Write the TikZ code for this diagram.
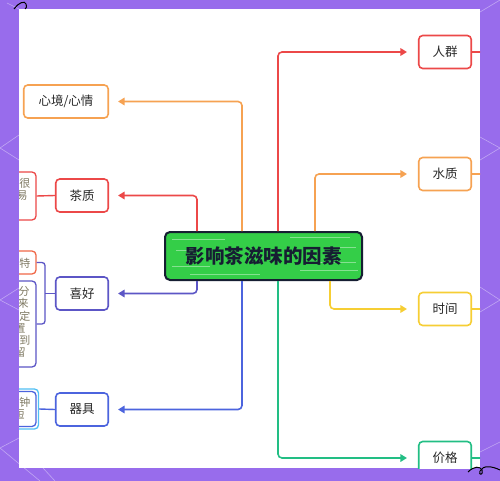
\documentclass[tikz,border=0pt]{standalone}
\usepackage{fontspec}
\newfontfamily\cjk{Noto Sans CJK SC}
\usetikzlibrary{arrows.meta,calc}
\definecolor{bgp}{RGB}{152,108,236}
\definecolor{cRed}{RGB}{236,72,72}
\definecolor{cOr}{RGB}{246,162,82}
\definecolor{cPur}{RGB}{92,86,198}
\definecolor{cBlue}{RGB}{76,100,222}
\definecolor{cYel}{RGB}{246,206,52}
\definecolor{cGrn}{RGB}{34,190,132}
\definecolor{cCyan}{RGB}{80,192,244}
\definecolor{cTOr}{RGB}{240,104,72}
\definecolor{mid}{RGB}{52,206,72}
\definecolor{midb}{RGB}{22,30,50}
\definecolor{txt}{RGB}{40,40,40}
\definecolor{gtxt}{RGB}{128,122,100}
\begin{document}
\begin{tikzpicture}[x=1pt,y=-1pt,
  font=\cjk\fontsize{12.5}{14}\selectfont,
  box/.style={draw, line width=1.6pt, rounded corners=4pt, fill=white,
    minimum width=52.5pt, minimum height=33pt, inner sep=0pt, text=txt},
  sbox/.style={draw, line width=1.3pt, rounded corners=4pt, fill=white,
    minimum width=34pt, inner sep=0pt},
  stxt/.style={font=\cjk\fontsize{11}{12}\selectfont, text=gtxt, inner sep=0pt},
  conn/.style={line width=1.6pt, rounded corners=4pt,
    -{Triangle[length=6.5pt,width=7.5pt]}},
  deco/.style={white, opacity=0.4, line width=0.6pt}]
\useasboundingbox (0,0) rectangle (500,481);
\fill[bgp] (0,0) rectangle (500,481);
% faint background lines
\draw[deco] (19,135) -- (0,148) -- (19,160);
\draw[deco] (19,288) -- (0,300) -- (19,310);
\draw[deco] (19,438) -- (0,448) -- (40,481);
\draw[deco] (43,468) -- (55,481);
\draw[deco] (7,3) -- (19,9);
\draw[deco] (480,137) -- (500,148) -- (480,160);
\draw[deco] (480,287) -- (500,300) -- (480,312);
\draw[deco] (480,12) -- (500,0);
\draw[deco] (480,452) -- (500,442);
\fill[white] (19,9) rectangle (480,468);
\begin{scope}
\clip (19,9) rectangle (480,468);
% center
\node[draw=midb, fill=mid, line width=2pt, rounded corners=5pt,
  minimum width=197pt, minimum height=48pt, inner sep=0pt] (c) at (263.5,256) {};
\foreach \a/\b/\yy in {172/225/239,290/350/237,176/200/250,330/356/247,172/210/266,300/358/270,190/260/274,320/356/262}
  \draw[white, opacity=0.4, line width=0.6pt] (\a,\yy) -- (\b,\yy);
\node[font=\cjk\bfseries\fontsize{19.5}{22}\selectfont, text=midb] (ct) at (263.5,256) {影响茶滋味的因素};
% left nodes
\node[box, draw=cOr, minimum width=84.5pt] (xj) at (66,101.5) {心境/心情};
\node[box, draw=cRed] (cz) at (82,195.5) {茶质};
\node[box, draw=cPur] (xh) at (82,293.5) {喜好};
\node[box, draw=cBlue] (qj) at (82,409.5) {器具};
% right nodes
\node[box, draw=cRed] (rq) at (445,52) {人群};
\node[box, draw=cOr] (sz) at (445,174) {水质};
\node[box, draw=cYel] (sj) at (445,309) {时间};
\node[box, draw=cGrn] (jg) at (445,458) {价格};
% connectors
\draw[conn, cOr, shorten >=9pt] ($(c.north west)+(78,0)$) |- (xj.east);
\draw[conn, cRed, shorten >=9pt] ($(c.north west)+(33,0)$) |- (cz.east);
\draw[conn, cPur, shorten >=9pt] ($(c.south west)+(33,0)$) |- (xh.east);
\draw[conn, cBlue, shorten >=9pt] ($(c.south west)+(78,0)$) |- (qj.east);
\draw[conn, cRed, shorten >=11pt] ($(c.north west)+(114,0)$) |- (rq.west);
\draw[conn, cOr, shorten >=11pt] ($(c.north west)+(151,0)$) |- (sz.west);
\draw[conn, cYel, shorten >=11pt] ($(c.south west)+(166,0)$) |- (sj.west);
\draw[conn, cGrn, shorten >=11pt] ($(c.south west)+(114,0)$) |- (jg.west);
% right stubs
\coordinate (e1) at (481,52);
\coordinate (e2) at (481,174);
\coordinate (e3) at (481,309);
\coordinate (e4) at (481,458);
\draw[cRed, line width=1.4pt] (rq.east) -- (e1);
\draw[cOr, line width=1.4pt] (sz.east) -- (e2);
\draw[cYel, line width=1.4pt] (sj.east) -- (e3);
\draw[cGrn, line width=1.4pt] (jg.east) -- (e4);
% left small boxes
\node[sbox, draw=cRed, minimum height=48pt] (czs) at (19,196) {};
\node[stxt] (t1) at (25,183.5) {很};
\node[stxt] (t2) at (22,195.5) {易};
\draw[cRed, line width=1.4pt] (czs.east) -- (cz.west);
\node[sbox, draw=cTOr, minimum height=23pt] (xh1) at (19,262.5) {};
\node[stxt] (t3) at (25,263) {特};
\node[sbox, draw=cPur, minimum height=86pt] (xh2) at (19,324) {};
\node[stxt] (t4) at (24,291) {分};
\node[stxt] (t5) at (23,303) {来};
\node[stxt] (t6) at (25,316) {定};
\node[stxt] (t7) at (20,328) {置};
\node[stxt] (t8) at (25,340) {到};
\node[stxt] (t9) at (20,352) {留};
\coordinate (bk) at (45,293.5);
\draw[cPur, line width=1.3pt, rounded corners=3pt] (xh1.east) -| (bk) |- (xh2.east);
\draw[cPur, line width=1.3pt] (xh.west) -- (bk);
\node[sbox, draw=cCyan, minimum width=37pt, minimum height=40pt] (qjo) at (20,409) {};
\node[sbox, draw=cBlue, minimum height=35pt] (qjs) at (19,409) {};
\node[stxt] (t10) at (25,402) {钟};
\node[stxt] (t11) at (19,414) {短};
\draw[cBlue, line width=1.4pt] (qjo.east) -- (qj.west);
\end{scope}
% squiggles
\draw[black, line width=1pt] (14,9) .. controls (18,3) and (25,0) .. (26,4) .. controls (27,7) and (26,9) .. (25,9);
\draw[black, line width=1pt] (468,472) .. controls (474,466) and (480,466) .. (482,470) .. controls (484,475) and (478,476) .. (480,471) .. controls (483,465) and (492,466) .. (500,470);
\end{tikzpicture}
\end{document}
